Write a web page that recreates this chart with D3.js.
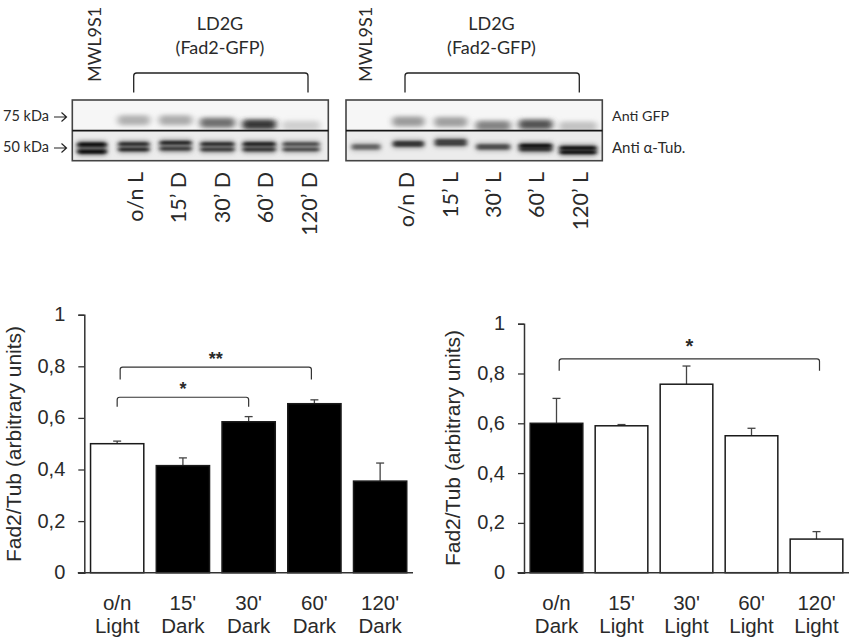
<!DOCTYPE html>
<html><head><meta charset="utf-8">
<script src="https://cdn.jsdelivr.net/npm/d3@7/dist/d3.min.js"></script>
<style>html,body{margin:0;padding:0;background:#fff}svg{display:block}</style>
</head><body><svg id="c" width="850" height="637" viewBox="0 0 850 637"></svg>
<script>
// ---------- bar chart data ----------
const leftTop = ["o/n","15'","30'","60'","120'"];
const leftBottom = ["Light","Dark","Dark","Dark","Dark"];
const leftValues = [0.50,0.415,0.585,0.655,0.355];
const leftErrTops = [0.51,0.445,0.605,0.67,0.425];
const leftFilled = [0,1,1,1,1];
const rightTop = ["o/n","15'","30'","60'","120'"];
const rightBottom = ["Dark","Light","Light","Light","Light"];
const rightValues = [0.60,0.59,0.757,0.55,0.135];
const rightErrTops = [0.70,0.595,0.83,0.58,0.165];
const rightFilled = [1,0,0,0,0];
const yTicks = [0,0.2,0.4,0.6,0.8,1];
const yTitle = "Fad2/Tub (arbitrary units)";
// significance: from lane, to lane, bracket level, drop level, label
const leftSig = [[0,3,0.797,0.749,"**"],[0,2,0.68,0.643,"*"]];
const rightSig = [[0,4,0.859,0.811,"*"]];
// ---------- blot data (lane 0 = MWL9S1) ----------
const lanes = [0,1,2,3,4,5];
const blotLeftLabels = ["o/n L","15’ D","30’ D","60’ D","120’ D"];
const blotRightLabels = ["o/n D","15’ L","30’ L","60’ L","120’ L"];
// darkness of anti-GFP band per lane, migration in the gel (0..1 of strip)
const gfpLeftDark = [0,0.27,0.29,0.54,0.78,0.14];
const gfpLeftMig = [0,0.66,0.66,0.74,0.80,0.84];
const gfpRightDark = [0,0.36,0.34,0.46,0.66,0.20];
const gfpRightMig = [0,0.70,0.72,0.84,0.80,0.86];
// anti-tubulin doublet: darkness of upper/lower band, migration of upper/lower band
const tubLeftDark = [[0.97,0.97],[0.70,0.72],[0.74,0.56],[0.70,0.58],[0.78,0.60],[0.52,0.54]];
const tubLeftMig = [[0.46,0.70],[0.44,0.63],[0.40,0.60],[0.44,0.63],[0.44,0.63],[0.44,0.63]];
const tubRightDark = [[0.34,0.34],[0.58,0.58],[0.58,0.58],[0.44,0.44],[0.92,0.58],[0.88,0.88]];
const tubRightMig = [[0.50,0.58],[0.40,0.48],[0.34,0.44],[0.50,0.58],[0.50,0.62],[0.58,0.72]];
const bandWidths = [30,32,33,35,34,38];

const svg = d3.select("#c");
const defs = svg.append("defs");
const blur = (id,s)=>defs.append("filter").attr("id",id)
  .attr("x","-30%").attr("y","-150%").attr("width","160%").attr("height","400%")
  .append("feGaussianBlur").attr("stdDeviation",s);
blur("b1","3 2.2"); blur("b2","2.2 1.25"); blur("b3","2.6 2.4");

const serif = "Lato, sans-serif", sans = "'Liberation Sans', Arial, sans-serif";
const ink = "#2a2a2a";

function blot(o){
  const g = svg.append("g");
  const x = d3.scalePoint().domain(lanes).range([o.x0,o.x1]);
  const strip = (id,top,bot,fill)=>{
    defs.append("clipPath").attr("id",id).append("rect")
      .attr("x",o.left).attr("y",top).attr("width",o.right-o.left).attr("height",bot-top);
    const s = g.append("g").attr("clip-path",`url(#${id})`);
    s.append("rect").attr("x",o.left).attr("y",top).attr("width",o.right-o.left).attr("height",bot-top).attr("fill",fill);
    return [s,d3.scaleLinear().domain([0,1]).range([top,bot])];
  };
  const [u,uy] = strip(o.id+"u",100,130.7,"#f6f6f6");
  const [l,ly] = strip(o.id+"l",130.7,160.7,"#ececec");
  const shade = d3.scaleLinear().domain([0,1]).range(["#f2f2f2","#000000"]);
  u.selectAll("rect.band").data(lanes.filter(i=>o.gfpD[i]>0)).join("rect").attr("class","band")
    .attr("x",i=>x(i)-bandWidths[i]/2).attr("y",i=>uy(o.gfpM[i])-5)
    .attr("width",i=>bandWidths[i]).attr("height",10).attr("rx",4)
    .attr("fill",i=>shade(o.gfpD[i])).attr("filter","url(#b1)");
  lanes.forEach(i=>{
    const m0 = o.tubM[i][0], m1 = o.tubM[i][1];
    const mx = d3.max(o.tubD[i]);
    l.append("rect").attr("x",x(i)-bandWidths[i]/2).attr("y",ly(m0)-3).attr("width",bandWidths[i])
      .attr("height",ly(m1)-ly(m0)+6).attr("rx",3)
      .attr("fill",shade(mx*0.6)).attr("filter","url(#b3)").style("mix-blend-mode","multiply");
    [0,1].forEach(k=>{
      l.append("rect").attr("x",x(i)-bandWidths[i]/2+1).attr("y",ly(o.tubM[i][k])-1.75)
        .attr("width",bandWidths[i]-2).attr("height",3.5).attr("rx",1.5)
        .attr("fill",shade(o.tubD[i][k])).attr("filter","url(#b2)")
        .style("mix-blend-mode","multiply");
    });
  });
  g.append("rect").attr("x",o.left).attr("y",100).attr("width",o.right-o.left).attr("height",60.7)
    .attr("fill","none").attr("stroke","#444").attr("stroke-width",1.6);
  g.append("line").attr("x1",o.left).attr("x2",o.right).attr("y1",130.7).attr("y2",130.7)
    .attr("stroke","#151515").attr("stroke-width",1.7);
  const [a,b] = o.bracket;
  g.append("path").attr("d",`M${a},92.5V76Q${a},73 ${a+3},73H${b-3}Q${b},73 ${b},76V92.5`)
    .attr("fill","none").attr("stroke","#222").attr("stroke-width",1.3);
  g.append("text").attr("x",o.mid).attr("y",30).text("LD2G")
    .attr("text-anchor","middle").attr("font-family",serif).attr("font-size",18).attr("fill",ink);
  g.append("text").attr("x",o.mid).attr("y",54).text("(Fad2-GFP)")
    .attr("text-anchor","middle").attr("font-family",serif).attr("font-size",18).attr("fill",ink);
  g.append("text").attr("transform",`translate(${o.mwl},82) rotate(-90)`).text("MWL9S1")
    .attr("font-family",serif).attr("font-size",18).attr("fill",ink);
  g.selectAll("text.lane").data(o.labels).join("text").attr("class","lane")
    .attr("transform",(d,i)=>`translate(${o.labelX[i]},172) rotate(-90)`)
    .attr("text-anchor","end").attr("font-family",serif).attr("font-size",21.5).attr("fill",ink)
    .text(d=>d);
}
blot({id:"bl",left:72.3,right:328.3,x0:92,x1:301,mid:220,mwl:101,bracket:[133.7,308],
  gfpD:gfpLeftDark,gfpM:gfpLeftMig,tubD:tubLeftDark,tubM:tubLeftMig,
  labels:blotLeftLabels,labelX:[142.5,186,230,273,316.5]});
blot({id:"br",left:346,right:602.3,x0:366,x1:578,mid:491.5,mwl:372,bracket:[405,579.3],
  gfpD:gfpRightDark,gfpM:gfpRightMig,tubD:tubRightDark,tubM:tubRightMig,
  labels:blotRightLabels,labelX:[414,458,500.5,544,588]});

[["75 kDa",121,117],["50 kDa",152,148]].forEach(([t,by,ay])=>{
  svg.append("text").attr("x",3).attr("y",by).text(t).attr("font-family",serif)
    .attr("font-size",14.5).attr("fill",ink);
  svg.append("path").attr("d",`M54,${ay}H66M61.5,${ay-4.5}L66.5,${ay}L61.5,${ay+4.5}`)
    .attr("fill","none").attr("stroke","#222").attr("stroke-width",1.2);
});
svg.append("text").attr("x",612).attr("y",121).text("Anti GFP").attr("font-family",serif).attr("font-size",14.3).attr("fill",ink);
svg.append("text").attr("x",612).attr("y",153).text("Anti α-Tub.").attr("font-family",serif).attr("font-size",15).attr("fill",ink);

// ---------- bar charts ----------
function chart(o){
  const g = svg.append("g");
  const y = d3.scaleLinear().domain([0,1]).range([572.7,o.top]);
  const idx = d3.range(o.values.length);
  const x = d3.scaleBand().domain(idx).range([o.axisX,o.endX]).paddingInner(0.19).paddingOuter(0.095);
  g.selectAll("line.err").data(idx).join("line").attr("class","err")
    .attr("x1",i=>x(i)+x.bandwidth()/2).attr("x2",i=>x(i)+x.bandwidth()/2)
    .attr("y1",i=>y(o.values[i])).attr("y2",i=>y(o.errs[i]))
    .attr("stroke","#444").attr("stroke-width",1.3);
  g.selectAll("line.cap").data(idx).join("line").attr("class","cap")
    .attr("x1",i=>x(i)+x.bandwidth()/2-4).attr("x2",i=>x(i)+x.bandwidth()/2+4)
    .attr("y1",i=>y(o.errs[i])).attr("y2",i=>y(o.errs[i]))
    .attr("stroke","#444").attr("stroke-width",1.3);
  g.selectAll("rect.bar").data(idx).join("rect").attr("class","bar")
    .attr("x",i=>x(i)).attr("width",x.bandwidth())
    .attr("y",i=>y(o.values[i])).attr("height",i=>y(0)-y(o.values[i]))
    .attr("fill",i=>o.filled[i]?"#000":"#fff").attr("stroke","#1a1a1a").attr("stroke-width",1.5);
  const ax = g.append("g").attr("transform",`translate(${o.axisX},0)`)
    .call(d3.axisLeft(y).tickValues(yTicks).tickSize(6).tickPadding(13)
      .tickFormat(d=>String(d).replace(".",",")));
  ax.select(".domain").attr("stroke","#333").attr("stroke-width",1.5);
  ax.selectAll(".tick line").attr("stroke","#333").attr("stroke-width",1.3);
  ax.selectAll(".tick text").attr("font-family",sans).attr("font-size",20).attr("fill",ink).attr("dy","0.3em");
  g.append("line").attr("x1",o.axisX-6.5).attr("x2",o.endX).attr("y1",y(0)).attr("y2",y(0))
    .attr("stroke","#333").attr("stroke-width",1.5);
  idx.forEach(i=>{
    const cx = x(i)+x.bandwidth()/2;
    [[o.line1[i],610],[o.line2[i],632.5]].forEach(([t,by])=>{
      g.append("text").attr("x",cx).attr("y",by).attr("text-anchor","middle")
        .attr("font-family",sans).attr("font-size",20.5).attr("fill",ink).text(t);
    });
  });
  g.append("text").attr("transform",`translate(${o.titleX},${o.titleY}) rotate(-90)`)
    .attr("text-anchor","middle").attr("font-family",sans).attr("font-size",21).attr("fill",ink).text(yTitle);
  o.sig.forEach(([a,b,lv,dr,t],k)=>{
    const xa = x(a)+x.bandwidth()/2+o.sigShift[k][0], xb = x(b)+x.bandwidth()/2+o.sigShift[k][1];
    const yt = y(lv), yd = y(dr);
    g.append("path").attr("d",`M${xa},${yd}V${yt+2.5}Q${xa},${yt} ${xa+2.5},${yt}H${xb-2.5}Q${xb},${yt} ${xb},${yt+2.5}V${yd}`)
      .attr("fill","none").attr("stroke","#333").attr("stroke-width",1.2);
    g.append("text").attr("x",(xa+xb)/2).attr("y",yt-o.starGap).attr("text-anchor","middle")
      .attr("font-family",sans).attr("font-weight","bold").attr("font-size",o.starSize).attr("fill",ink).text(t);
  });
}
chart({top:314.7,axisX:84.3,endX:413,values:leftValues,errs:leftErrTops,filled:leftFilled,
  line1:leftTop,line2:leftBottom,titleX:21,titleY:444,sig:leftSig,sigShift:[[3,-3],[0,0]],starGap:2,starSize:18});
chart({top:323.7,axisX:524,endX:849,values:rightValues,errs:rightErrTops,filled:rightFilled,
  line1:rightTop,line2:rightBottom,titleX:460,titleY:448,sig:rightSig,sigShift:[[2.7,3]],starGap:6,starSize:20});
</script></body></html>
